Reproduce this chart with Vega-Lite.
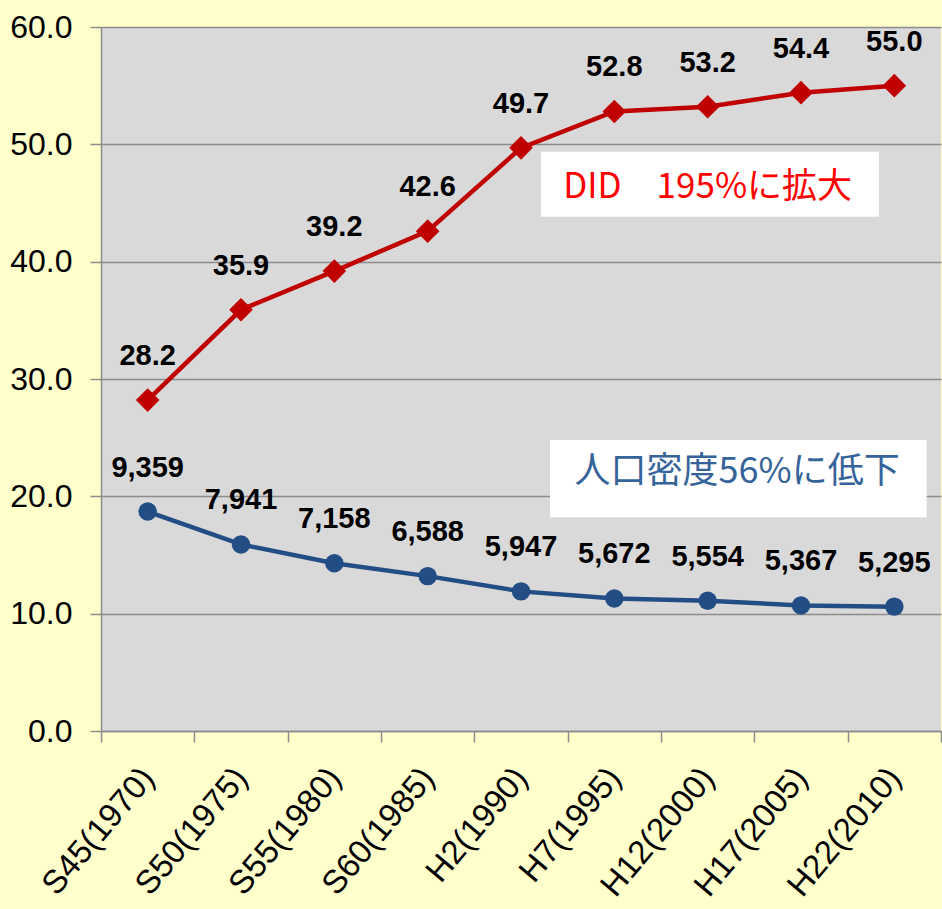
{
  "$schema": "https://vega.github.io/schema/vega-lite/v6.json",
  "autosize": {"type": "none"},
  "width": 840,
  "height": 704,
  "padding": {"left": 101, "top": 27, "right": 1, "bottom": 178},
  "background": "#FFFFCC",
  "config": {
    "view": {"fill": "#D9D9D9", "stroke": null}
  },
  "datasets": {
    "series": [
      {"period": "S45(1970)", "series": "DID", "value": 28.2, "label": "28.2"},
      {"period": "S50(1975)", "series": "DID", "value": 35.9, "label": "35.9"},
      {"period": "S55(1980)", "series": "DID", "value": 39.2, "label": "39.2"},
      {"period": "S60(1985)", "series": "DID", "value": 42.6, "label": "42.6"},
      {"period": "H2(1990)", "series": "DID", "value": 49.7, "label": "49.7"},
      {"period": "H7(1995)", "series": "DID", "value": 52.8, "label": "52.8"},
      {"period": "H12(2000)", "series": "DID", "value": 53.2, "label": "53.2"},
      {"period": "H17(2005)", "series": "DID", "value": 54.4, "label": "54.4"},
      {"period": "H22(2010)", "series": "DID", "value": 55.0, "label": "55.0"},
      {"period": "S45(1970)", "series": "density", "value": 18.7, "label": "9,359"},
      {"period": "S50(1975)", "series": "density", "value": 15.9, "label": "7,941"},
      {"period": "S55(1980)", "series": "density", "value": 14.3, "label": "7,158"},
      {"period": "S60(1985)", "series": "density", "value": 13.2, "label": "6,588"},
      {"period": "H2(1990)", "series": "density", "value": 11.9, "label": "5,947"},
      {"period": "H7(1995)", "series": "density", "value": 11.3, "label": "5,672"},
      {"period": "H12(2000)", "series": "density", "value": 11.1, "label": "5,554"},
      {"period": "H17(2005)", "series": "density", "value": 10.7, "label": "5,367"},
      {"period": "H22(2010)", "series": "density", "value": 10.6, "label": "5,295"}
    ],
    "notes": [
      {"id": "did", "text": "DID\u3000195%に拡大", "x1": 4.714, "x2": 8.336, "y1": 49.37, "y2": 43.83, "tx": 6.5, "ty": 46.4},
      {"id": "dens", "text": "人口密度56%に低下", "x1": 4.811, "x2": 8.847, "y1": 24.8, "y2": 18.21, "tx": 6.816, "ty": 22.05}
    ]
  },
  "layer": [
    {
      "data": {"name": "series"},
      "encoding": {
        "x": {
          "field": "period", "type": "nominal", "sort": null,
          "scale": {"paddingInner": 0, "paddingOuter": 0},
          "axis": {
            "title": null, "tickBand": "extent", "tickSize": 11, "tickColor": "#8C8C8C", "tickWidth": 1.5,
            "domainColor": "#8C8C8C", "domainWidth": 1.5,
            "labelAngle": -50, "labelAlign": "right", "labelBaseline": "middle",
            "labelFont": "Liberation Sans", "labelFontSize": 33, "labelColor": "#000000",
            "labelPadding": 30, "grid": false
          }
        },
        "y": {
          "field": "value", "type": "quantitative",
          "scale": {"domain": [0, 60], "nice": false, "zero": true},
          "axis": {
            "title": null, "values": [0, 10, 20, 30, 40, 50, 60], "format": ".1f",
            "grid": true, "gridColor": "#8C8C8C", "gridWidth": 1.5,
            "tickSize": 11, "tickColor": "#8C8C8C", "tickWidth": 1.5,
            "domainColor": "#8C8C8C", "domainWidth": 1.5,
            "labelFont": "Liberation Sans", "labelFontSize": 32, "labelColor": "#000000",
            "labelPadding": 18, "labelBaseline": "middle"
          }
        },
        "color": {
          "field": "series", "type": "nominal",
          "scale": {"domain": ["DID", "density"], "range": ["#C00000", "#234D85"]},
          "legend": null
        }
      },
      "layer": [
        {"mark": {"type": "line", "strokeWidth": 4.5}},
        {
          "mark": {"type": "point", "filled": true, "opacity": 1},
          "encoding": {
            "shape": {"field": "series", "type": "nominal", "scale": {"domain": ["DID", "density"], "range": ["diamond", "circle"]}, "legend": null},
            "size": {"field": "series", "type": "nominal", "scale": {"domain": ["DID", "density"], "range": [560, 340]}, "legend": null}
          }
        },
        {
          "mark": {"type": "text", "dy": -44, "font": "Liberation Sans", "fontWeight": "bold", "fontSize": 29, "baseline": "middle", "align": "center"},
          "encoding": {
            "text": {"field": "label"},
            "color": {"value": "#000000"}
          }
        }
      ]
    },
    {
      "data": {"name": "notes"},
      "encoding": {},
      "layer": [
        {
          "mark": {"type": "rect", "fill": "#FFFFFF"},
          "encoding": {
            "x": {"field": "x1", "type": "quantitative", "scale": {"domain": [0, 9], "nice": false, "zero": false}, "axis": null},
            "x2": {"field": "x2"},
            "y": {"field": "y1", "type": "quantitative"},
            "y2": {"field": "y2"}
          }
        },
        {
          "transform": [{"filter": "datum.id === 'did'"}],
          "mark": {"type": "text", "font": "Noto Sans CJK JP", "fontSize": 35, "color": "#FF0000", "baseline": "middle", "align": "center"},
          "encoding": {
            "x": {"field": "tx", "type": "quantitative", "scale": {"domain": [0, 9], "nice": false, "zero": false}, "axis": null},
            "y": {"field": "ty", "type": "quantitative"},
            "text": {"field": "text"}
          }
        },
        {
          "transform": [{"filter": "datum.id === 'dens'"}],
          "mark": {"type": "text", "font": "Noto Sans CJK JP", "fontSize": 36, "color": "#36639A", "baseline": "middle", "align": "center"},
          "encoding": {
            "x": {"field": "tx", "type": "quantitative", "scale": {"domain": [0, 9], "nice": false, "zero": false}, "axis": null},
            "y": {"field": "ty", "type": "quantitative"},
            "text": {"field": "text"}
          }
        }
      ]
    }
  ],
  "resolve": {"scale": {"x": "independent"}}
}
